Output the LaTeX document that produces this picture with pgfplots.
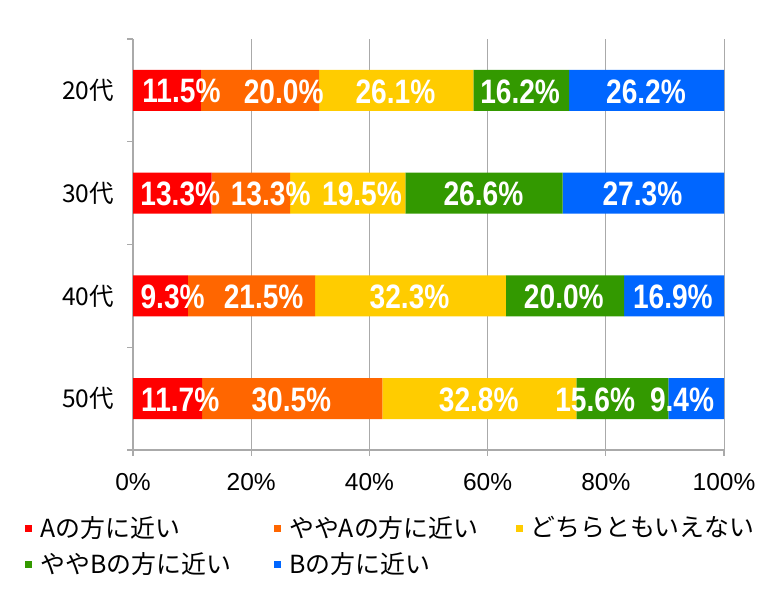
\documentclass[border=0pt]{standalone}
\usepackage{fontspec}
\setmainfont{Liberation Sans}
\newfontfamily\cjk{Noto Sans CJK JP}
\newfontfamily\condfont[FakeStretch=0.83]{Liberation Sans Bold}
\usepackage{pgfplots}
\usepackage{pgfplotstable}
\pgfplotsset{compat=1.18}

\definecolor{cA}{RGB}{255,0,0}
\definecolor{cAA}{RGB}{255,102,0}
\definecolor{cN}{RGB}{255,204,0}
\definecolor{cBB}{RGB}{51,153,0}
\definecolor{cB}{RGB}{0,102,255}
\definecolor{axgray}{RGB}{170,170,170}

% y: 20代=3, 30代=2, 40代=1, 50代=0
\pgfplotstableread{
y A AA N BB B
3 11.5 20.0 26.1 16.2 26.2
2 13.3 13.3 19.5 26.6 27.3
1 9.3 21.5 32.3 20.0 16.9
0 11.7 30.5 32.8 15.6 9.4
}\data

\begin{document}
\begin{tikzpicture}
\path[use as bounding box] (0,0) rectangle (384bp,294.5bp);
\begin{axis}[
  at={(66.5bp,69.5bp)}, anchor=south west,
  scale only axis, width=295.5bp, height=205.5bp,
  xbar stacked, bar width=20.5bp,
  xmin=0, xmax=100, ymin=-0.5, ymax=3.5,
  axis x line*=bottom, axis y line*=left,
  axis line style={draw=axgray, line width=0.6bp, -},
  xtick={0,20,40,60,80,100},
  xticklabels={0\%,20\%,40\%,60\%,80\%,100\%},
  xmajorgrids, grid style={draw=axgray, line width=0.5bp},
  ytick={0,1,2,3},
  yticklabels={50代,40代,30代,20代},
  minor ytick={-0.5,0.5,1.5,2.5,3.5},
  major y tick style={draw=none},
  minor y tick style={draw=axgray, line width=0.6bp},
  major x tick style={draw=axgray, line width=0.6bp},
  tick align=outside,
  major tick length=3bp, minor tick length=3bp,
  xticklabel style={font=\fontsize{12.3}{14}\selectfont, yshift=-5bp},
  yticklabel style={font=\cjk\fontsize{12.3}{14}\selectfont, xshift=-3bp},
  legend columns=3,
  legend cell align=left,
  legend image code/.code={\fill[#1] (0bp,-1.75bp) rectangle (3.5bp,1.75bp);},
  legend style={at={(axis description cs:-0.1827,-0.16)}, anchor=north west,
    draw=none, fill=none, font=\cjk\fontsize{12.5}{14}\selectfont,
    inner sep=0pt, row sep=6bp,
    nodes={inner sep=0pt},
    /tikz/every odd column/.append style={column sep=4bp},
    /tikz/column 2/.append style={column sep=21.5bp},
    /tikz/column 4/.append style={column sep=18.5bp}},
]
\addplot[fill=cA, draw=none] table[x=A, y=y] {\data};
\addlegendentry{Aの方に近い}
\addplot[fill=cAA, draw=none] table[x=AA, y=y] {\data};
\addlegendentry{ややAの方に近い}
\addplot[fill=cN, draw=none] table[x=N, y=y] {\data};
\addlegendentry{どちらともいえない}
\addplot[fill=cBB, draw=none] table[x=BB, y=y] {\data};
\addlegendentry{ややBの方に近い}
\addplot[fill=cB, draw=none] table[x=B, y=y] {\data};
\addlegendentry{Bの方に近い}
\end{axis}
\begin{axis}[
  at={(66.5bp,69.5bp)}, anchor=south west,
  scale only axis, width=295.5bp, height=205.5bp,
  xmin=0, xmax=100, ymin=-0.5, ymax=3.5,
  hide axis, clip=false,
]
\addplot[draw=none, mark=none, nodes near coords, point meta=explicit symbolic,
  nodes near coords style={anchor=center, text=white, inner sep=0pt, yshift=-0.5bp,
    font=\condfont\fontsize{17}{19}\selectfont}]
coordinates {
(8.2,3) [11.5\%] (25.5,3) [20.0\%] (44.4,3) [26.1\%] (65.5,3) [16.2\%] (86.8,3) [26.2\%]
(8.0,2) [13.3\%] (23.3,2) [13.3\%] (38.75,2) [19.5\%] (59.3,2) [26.6\%] (86.2,2) [27.3\%]
(6.7,1) [9.3\%] (22.1,1) [21.5\%] (46.8,1) [32.3\%] (72.9,1) [20.0\%] (91.35,1) [16.9\%]
(8.0,0) [11.7\%] (26.8,0) [30.5\%] (58.5,0) [32.8\%] (78.2,0) [15.6\%] (92.9,0) [9.4\%]
};
\end{axis}
\end{tikzpicture}
\end{document}
